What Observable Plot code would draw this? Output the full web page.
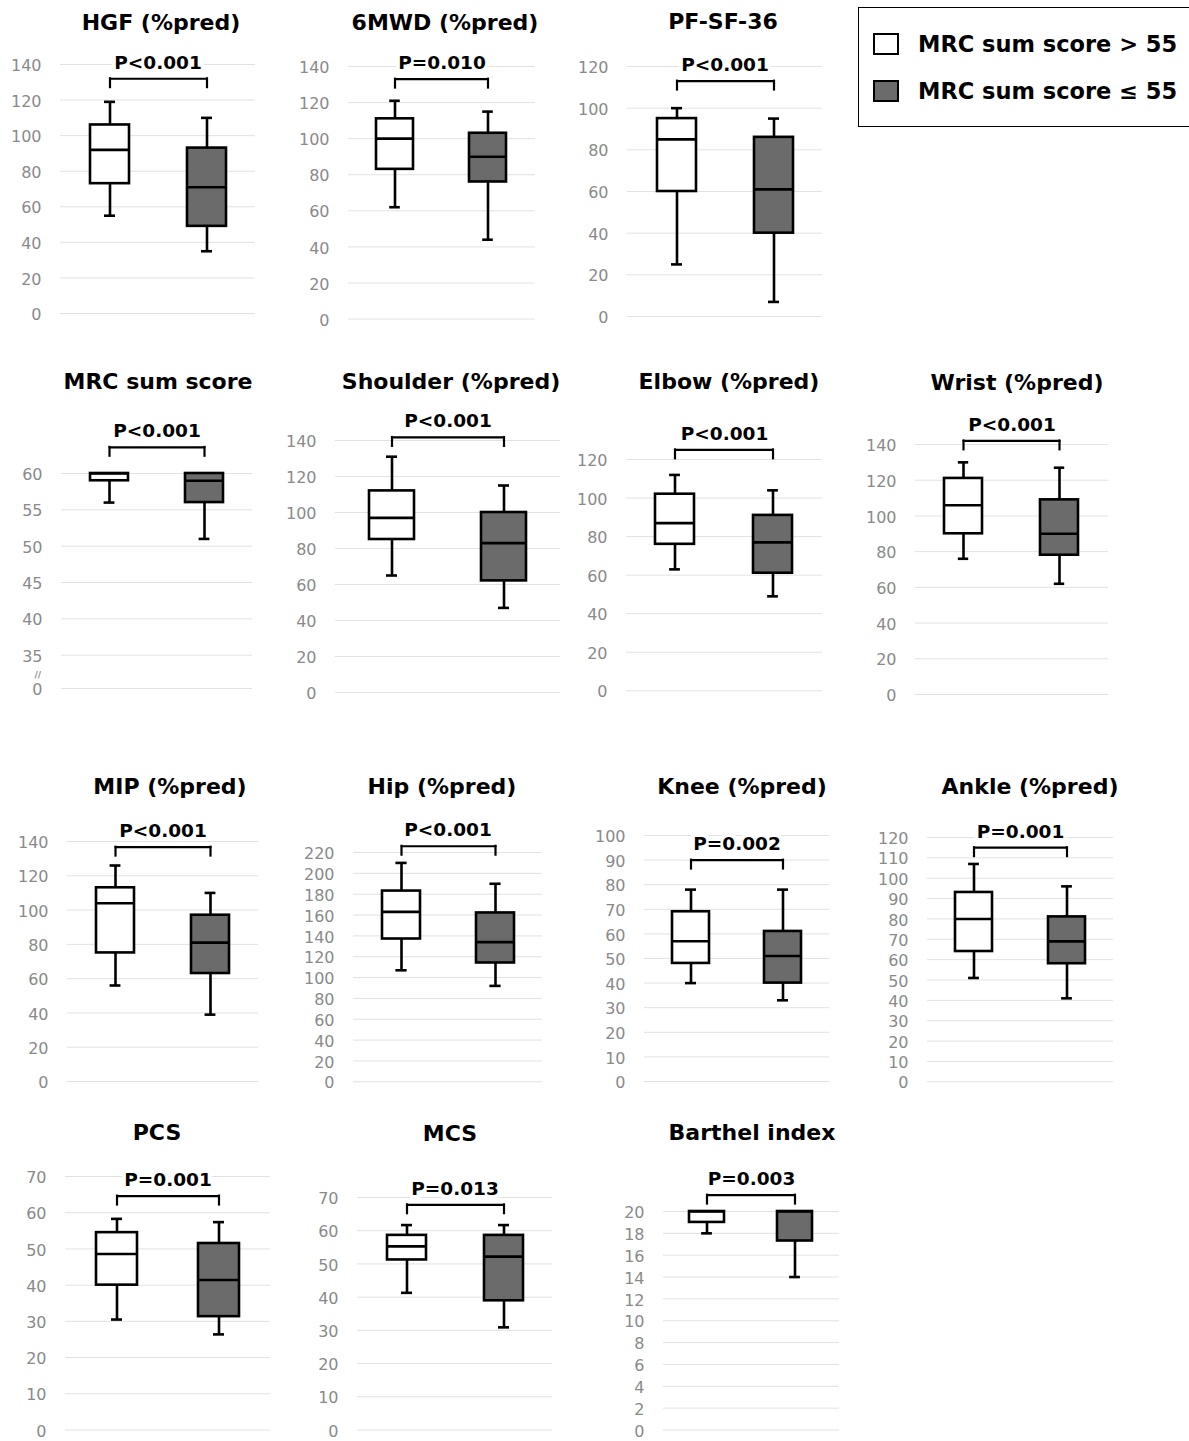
<!DOCTYPE html>
<html>
<head>
<meta charset="utf-8">
<script src="https://cdn.jsdelivr.net/npm/d3@7"></script>
<script src="https://cdn.jsdelivr.net/npm/@observablehq/plot@0.6"></script>
<style>
  body { margin: 0; background: #fff; }
  #chart { position: relative; width: 1189px; height: 1441px; overflow: hidden; background: #fff; font-family: "DejaVu Sans", sans-serif; }
  .title { position: absolute; transform: translate(-50%, -50%); font-weight: bold; font-size: 22px; line-height: 1; white-space: nowrap; color: #000; }
  .panel { position: absolute; }
  .panel svg { overflow: visible; }
  #legend { position: absolute; left: 858px; top: 7px; width: 360px; height: 118px; border: 1.5px solid #000; background: #fff; }
  .item { position: absolute; left: 59px; font-weight: bold; font-size: 22.5px; line-height: 1; white-space: nowrap; color: #000; transform: translateY(-50%); }
  .sw { position: absolute; left: 14px; width: 22px; height: 18px; border: 2px solid #000; transform: translateY(-50%); }
</style>
</head>
<body>
<div id="chart"></div>
<script>
// ---------- data ----------
const panelTitles = ["HGF (%pred)", "6MWD (%pred)", "PF-SF-36", "MRC sum score", "Shoulder (%pred)", "Elbow (%pred)", "Wrist (%pred)",
  "MIP (%pred)", "Hip (%pred)", "Knee (%pred)", "Ankle (%pred)", "PCS", "MCS", "Barthel index"];
const pLabels = ["P<0.001", "P=0.010", "P<0.001", "P<0.001", "P<0.001", "P<0.001", "P<0.001",
  "P<0.001", "P<0.001", "P=0.002", "P=0.001", "P=0.001", "P=0.013", "P=0.003"];
const groups = ["MRC sum score > 55", "MRC sum score \u2264 55"];
const groupFill = ["#ffffff", "#6b6b6b"];

// five-number summaries: [min, q1, median, q3, max]
const highGroup = [
  [55, 73, 92, 106, 119],
  [62, 83, 100, 111, 121],
  [25, 60, 85, 95, 100],
  [56, 59, 60, 60, 60],
  [65, 85, 97, 112, 131],
  [63, 76, 87, 102, 112],
  [76, 90, 106, 121, 130],
  [56, 75, 104, 113, 126],
  [107, 137, 163, 183, 210],
  [40, 48, 57, 69, 78],
  [51, 64, 80, 93, 107],
  [30.5, 40, 48.6, 54.5, 58.3],
  [41.3, 51.2, 55.3, 58.6, 61.7],
  [18, 19, 20, 20, 20]
];
const lowGroup = [
  [35, 49, 71, 93, 110],
  [44, 76, 90, 103, 115],
  [7, 40, 61, 86, 95],
  [51, 56, 59, 60, 60],
  [47, 62, 83, 100, 115],
  [49, 61, 77, 91, 104],
  [62, 78, 90, 109, 127],
  [39, 63, 81, 97, 110],
  [92, 114, 134, 162, 190],
  [33, 40, 51, 61, 78],
  [41, 58, 69, 81, 96],
  [26.4, 31.3, 41.4, 51.5, 57.4],
  [30.9, 38.9, 52.2, 58.6, 61.7],
  [14, 17.3, 20, 20, 20]
];

const tickValues = [
  [0, 20, 40, 60, 80, 100, 120, 140],
  [0, 20, 40, 60, 80, 100, 120, 140],
  [0, 20, 40, 60, 80, 100, 120],
  [0, 35, 40, 45, 50, 55, 60],
  [0, 20, 40, 60, 80, 100, 120, 140],
  [0, 20, 40, 60, 80, 100, 120],
  [0, 20, 40, 60, 80, 100, 120, 140],
  [0, 20, 40, 60, 80, 100, 120, 140],
  [0, 20, 40, 60, 80, 100, 120, 140, 160, 180, 200, 220],
  [0, 10, 20, 30, 40, 50, 60, 70, 80, 90, 100],
  [0, 10, 20, 30, 40, 50, 60, 70, 80, 90, 100, 110, 120],
  [0, 10, 20, 30, 40, 50, 60, 70],
  [0, 10, 20, 30, 40, 50, 60, 70],
  [0, 2, 4, 6, 8, 10, 12, 14, 16, 18, 20]
];

// significance bracket level (in each panel's data units)
const bracketLevels = [132, 133, 113, 63.6, 141.7, 125, 142, 136.7, 226, 90, 115, 64.6, 67.8, 21.5];

// broken axis of the MRC sum score panel: 0 // 35 ... 60
const brokenPanel = 3;
const brokenDomain = [0, 35, 60];
const breakMarkLevel = 15;

// ---------- layout (pixels) ----------
// [gridLeft, gridRight, topTickPx, zeroPx, titleX, titleY]
const layout = [
  [60, 255, 64.3, 313.3, 161, 23],
  [348, 535, 65.7, 318.3, 445, 23],
  [627, 822, 66, 316, 723, 22],
  [61, 252, 473.3, 688.3, 158, 382],
  [335, 560, 440, 692, 451, 382],
  [626, 822, 458.7, 690, 729, 382],
  [915, 1108, 444, 694, 1017, 383],
  [67, 258, 841, 1081, 170, 787],
  [353, 542, 851.7, 1081, 442, 787],
  [644, 829, 835, 1081, 742, 787],
  [927, 1113, 836.7, 1081, 1030, 787],
  [65, 270, 1176, 1429.5, 157, 1133],
  [357, 552, 1197, 1429.5, 450, 1134],
  [663, 839, 1211, 1429.5, 752, 1133]
];
const brokenPx = [688.3, 655, 473.3];

const chart = document.getElementById("chart");
const ML = 60, MR = 12, MT = 64, MB = 22;
const SW = 2.6;

panelTitles.forEach((title, i) => {
  const [gx0, gx1, topPx, zeroPx, tx, ty] = layout[i];
  const ticks = tickValues[i];
  const width = gx1 - gx0 + ML + MR;
  const svgTop = topPx - MT;
  const height = Math.round(zeroPx - svgTop + MB);
  const yOpt = i === brokenPanel
    ? {type: "linear", domain: brokenDomain, range: brokenPx.map(p => p - svgTop)}
    : {type: "linear", domain: [0, ticks[ticks.length - 1]], range: [zeroPx - svgTop, topPx - svgTop]};
  const rows = groups.map((g, j) => {
    const s = (j === 0 ? highGroup : lowGroup)[i];
    return {group: g, min: s[0], q1: s[1], med: s[2], q3: s[3], max: s[4]};
  });
  const bw = 0.2 * (gx1 - gx0);
  const capInset = (bw - 11) / 2;
  const b = bracketLevels[i];

  const marks = [
    Plot.gridY(ticks, {stroke: "#e2e2e2", strokeOpacity: 1, strokeWidth: 1}),
    Plot.axisY(ticks, {tickSize: 0, tickPadding: 19, dy: 1.5, color: "#8a8a8a", fontSize: 16, label: null, tickFormat: d => String(d)}),
    Plot.ruleX(rows, {x: "group", y1: "q3", y2: "max", stroke: "#000", strokeWidth: SW}),
    Plot.ruleX(rows, {x: "group", y1: "min", y2: "q1", stroke: "#000", strokeWidth: SW}),
    Plot.tickY(rows, {x: "group", y: "max", stroke: "#000", strokeWidth: SW, insetLeft: capInset, insetRight: capInset}),
    Plot.tickY(rows, {x: "group", y: "min", stroke: "#000", strokeWidth: SW, insetLeft: capInset, insetRight: capInset}),
    Plot.barY(rows, {x: "group", y1: "q1", y2: "q3", fill: "group", stroke: "#000", strokeWidth: SW}),
    Plot.tickY(rows, {x: "group", y: "med", stroke: "#000", strokeWidth: SW}),
    Plot.text([pLabels[i]], {text: d => d, y: () => b, frameAnchor: "middle", dy: -16, fontSize: 18.5, fontWeight: "bold",
      fontFamily: "DejaVu Sans", fill: "#000", stroke: "#fff", strokeWidth: 8}),
    Plot.line(groups, {x: d => d, y: () => b, stroke: "#000", strokeWidth: 2.2}),
    Plot.ruleX(groups, {x: d => d, y1: () => b, y2: () => b, insetBottom: -10, insetTop: -1, stroke: "#000", strokeWidth: 2.2})
  ];
  if (i === brokenPanel) {
    marks.push(Plot.text(["//"], {text: d => d, y: () => breakMarkLevel, frameAnchor: "left", dx: -27, dy: 1, fontSize: 9, fill: "#8a8a8a", fontWeight: "bold"}));
  }

  const svg = Plot.plot({
    width, height,
    marginLeft: ML, marginRight: MR, marginTop: MT, marginBottom: MB,
    style: {background: "transparent", fontFamily: "DejaVu Sans", overflow: "visible"},
    x: {type: "band", domain: groups, paddingInner: 0.6, paddingOuter: 0.3, axis: null},
    y: yOpt,
    color: {domain: groups, range: groupFill},
    marks
  });
  const holder = document.createElement("div");
  holder.className = "panel";
  holder.style.left = (gx0 - ML) + "px";
  holder.style.top = svgTop + "px";
  holder.appendChild(svg);
  chart.appendChild(holder);

  const t = document.createElement("div");
  t.className = "title";
  t.style.left = tx + "px";
  t.style.top = ty + "px";
  t.textContent = title;
  chart.appendChild(t);
});

// legend
const legend = document.createElement("div");
legend.id = "legend";
const legendY = [36, 83];
groups.forEach((g, j) => {
  const sw = document.createElement("div");
  sw.className = "sw";
  sw.style.top = legendY[j] + "px";
  sw.style.background = groupFill[j];
  legend.appendChild(sw);
  const it = document.createElement("div");
  it.className = "item";
  it.style.top = legendY[j] + "px";
  it.textContent = g;
  legend.appendChild(it);
});
chart.appendChild(legend);
</script>
</body>
</html>
